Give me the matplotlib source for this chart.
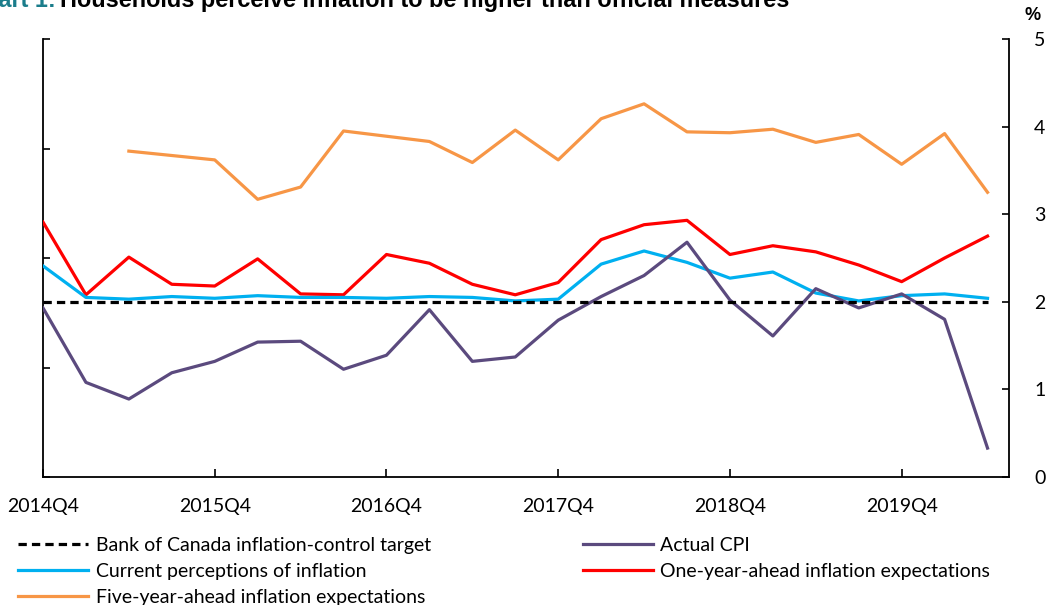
import matplotlib
matplotlib.use("Agg")
import matplotlib.pyplot as plt
from matplotlib.lines import Line2D

plt.rcParams['font.family'] = ['Lato', 'DejaVu Sans']

# quarters 2014Q4 .. 2020Q2
quarters = ['2014Q4', '2015Q1', '2015Q2', '2015Q3', '2015Q4', '2016Q1', '2016Q2', '2016Q3',
            '2016Q4', '2017Q1', '2017Q2', '2017Q3', '2017Q4', '2018Q1', '2018Q2', '2018Q3',
            '2018Q4', '2019Q1', '2019Q2', '2019Q3', '2019Q4', '2020Q1', '2020Q2']
tick_labels = ['2014Q4', '2015Q4', '2016Q4', '2017Q4', '2018Q4', '2019Q4']

target = [2.0] * 23
actual_cpi = [1.93, 1.08, 0.89, 1.19, 1.32, 1.54, 1.55, 1.23, 1.39, 1.91, 1.32, 1.37,
              1.79, 2.06, 2.30, 2.68, 2.02, 1.61, 2.15, 1.93, 2.09, 1.80, 0.33]
current_perc = [2.41, 2.05, 2.03, 2.06, 2.04, 2.07, 2.05, 2.05, 2.04, 2.06, 2.05, 2.01,
                2.03, 2.43, 2.58, 2.45, 2.27, 2.34, 2.10, 2.01, 2.07, 2.09, 2.04]
one_year = [2.91, 2.08, 2.51, 2.20, 2.18, 2.49, 2.09, 2.08, 2.54, 2.44, 2.20, 2.08,
            2.22, 2.71, 2.88, 2.93, 2.54, 2.64, 2.57, 2.42, 2.23, 2.50, 2.75]
five_year = [None, None, 3.72, 3.67, 3.62, 3.17, 3.31, 3.95, 3.89, 3.83, 3.59, 3.96,
             3.62, 4.09, 4.26, 3.94, 3.93, 3.97, 3.82, 3.91, 3.57, 3.92, 3.25]

c_target = 'black'
c_cpi = '#5b4a7e'
c_cur = '#00b0f0'
c_one = '#ff0000'
c_five = '#f79646'

x = list(range(len(quarters)))
x5 = [i for i in x if five_year[i] is not None]
y5 = [five_year[i] for i in x5]

fig = plt.figure(figsize=(10.5, 6.05), dpi=100)
# left axis: ticks only (0-4 scale, no labels)
axl = fig.add_axes([43/1050, 1 - 477/605, (1009 - 43)/1050, (477 - 39)/605])
ax = axl.twinx()

axl.set_xlim(0, 22.5)
axl.set_ylim(0, 4)
axl.yaxis.tick_left()
axl.set_yticks([0, 1, 2, 3, 4])
axl.set_yticklabels([])
axl.tick_params(axis='y', direction='in', length=5, width=1.2)
axl.set_xticks([0, 4, 8, 12, 16, 20])
axl.set_xticklabels(tick_labels)
axl.tick_params(axis='x', direction='in', length=6, width=1.2, pad=15, labelsize=14)
for s in ['top', 'right']:
    axl.spines[s].set_visible(False)
for s in ['left', 'bottom']:
    axl.spines[s].set_linewidth(1.3)

lw = 2.3
ax.plot(x5, y5, color=c_five, lw=lw)
ax.plot(x, one_year, color=c_one, lw=lw)
ax.plot(x, current_perc, color=c_cur, lw=lw)
ax.plot(x, actual_cpi, color=c_cpi, lw=lw)
ax.plot(x, target, color=c_target, lw=2.3, ls=(0, (2.6, 1.6)))

ax.set_xlim(0, 22.5)
ax.set_ylim(0, 5)
ax.yaxis.tick_right()
ax.set_yticks([0, 1, 2, 3, 4, 5])
ax.tick_params(axis='y', direction='in', length=5, width=1.2, pad=18, labelsize=14)
for s in ['top', 'left', 'bottom']:
    ax.spines[s].set_visible(False)
ax.spines['right'].set_linewidth(1.3)

fig.text(1033/1050, 1 - 16/605, '%', fontsize=13, fontweight='bold', ha='center', va='center',
         family=['Liberation Sans', 'DejaVu Sans'])

# title (cut off at the top of the image)
fig.text(56/1050, 1 - 7/605, 'Chart 1:', color='#1b7d8b', fontsize=16.9, fontweight='bold',
         ha='right', va='baseline', family=['Liberation Sans', 'DejaVu Sans'])
fig.text(60/1050, 1 - 7/605, 'Households perceive inflation to be higher than official measures',
         color='black', fontsize=16.9, fontweight='bold', ha='left', va='baseline',
         family=['Liberation Sans', 'DejaVu Sans'])

handles = [
    Line2D([], [], color=c_target, lw=2.3, ls=(0, (2.6, 1.6))),
    Line2D([], [], color=c_cur, lw=lw),
    Line2D([], [], color=c_five, lw=lw),
    Line2D([], [], color=c_cpi, lw=lw),
    Line2D([], [], color=c_one, lw=lw),
]
labels = ['Bank of Canada inflation-control target', 'Current perceptions of inflation',
          'Five-year-ahead inflation expectations', 'Actual CPI',
          'One-year-ahead inflation expectations']
fig.legend(handles, labels, ncol=2, loc='upper left', bbox_to_anchor=(18/1050, 1 - 537/605),
           frameon=False, fontsize=14, handlelength=3.6, handletextpad=0.4,
           columnspacing=7.8, labelspacing=0.45, borderaxespad=0, borderpad=0)

fig.savefig('out.png', dpi=100)
